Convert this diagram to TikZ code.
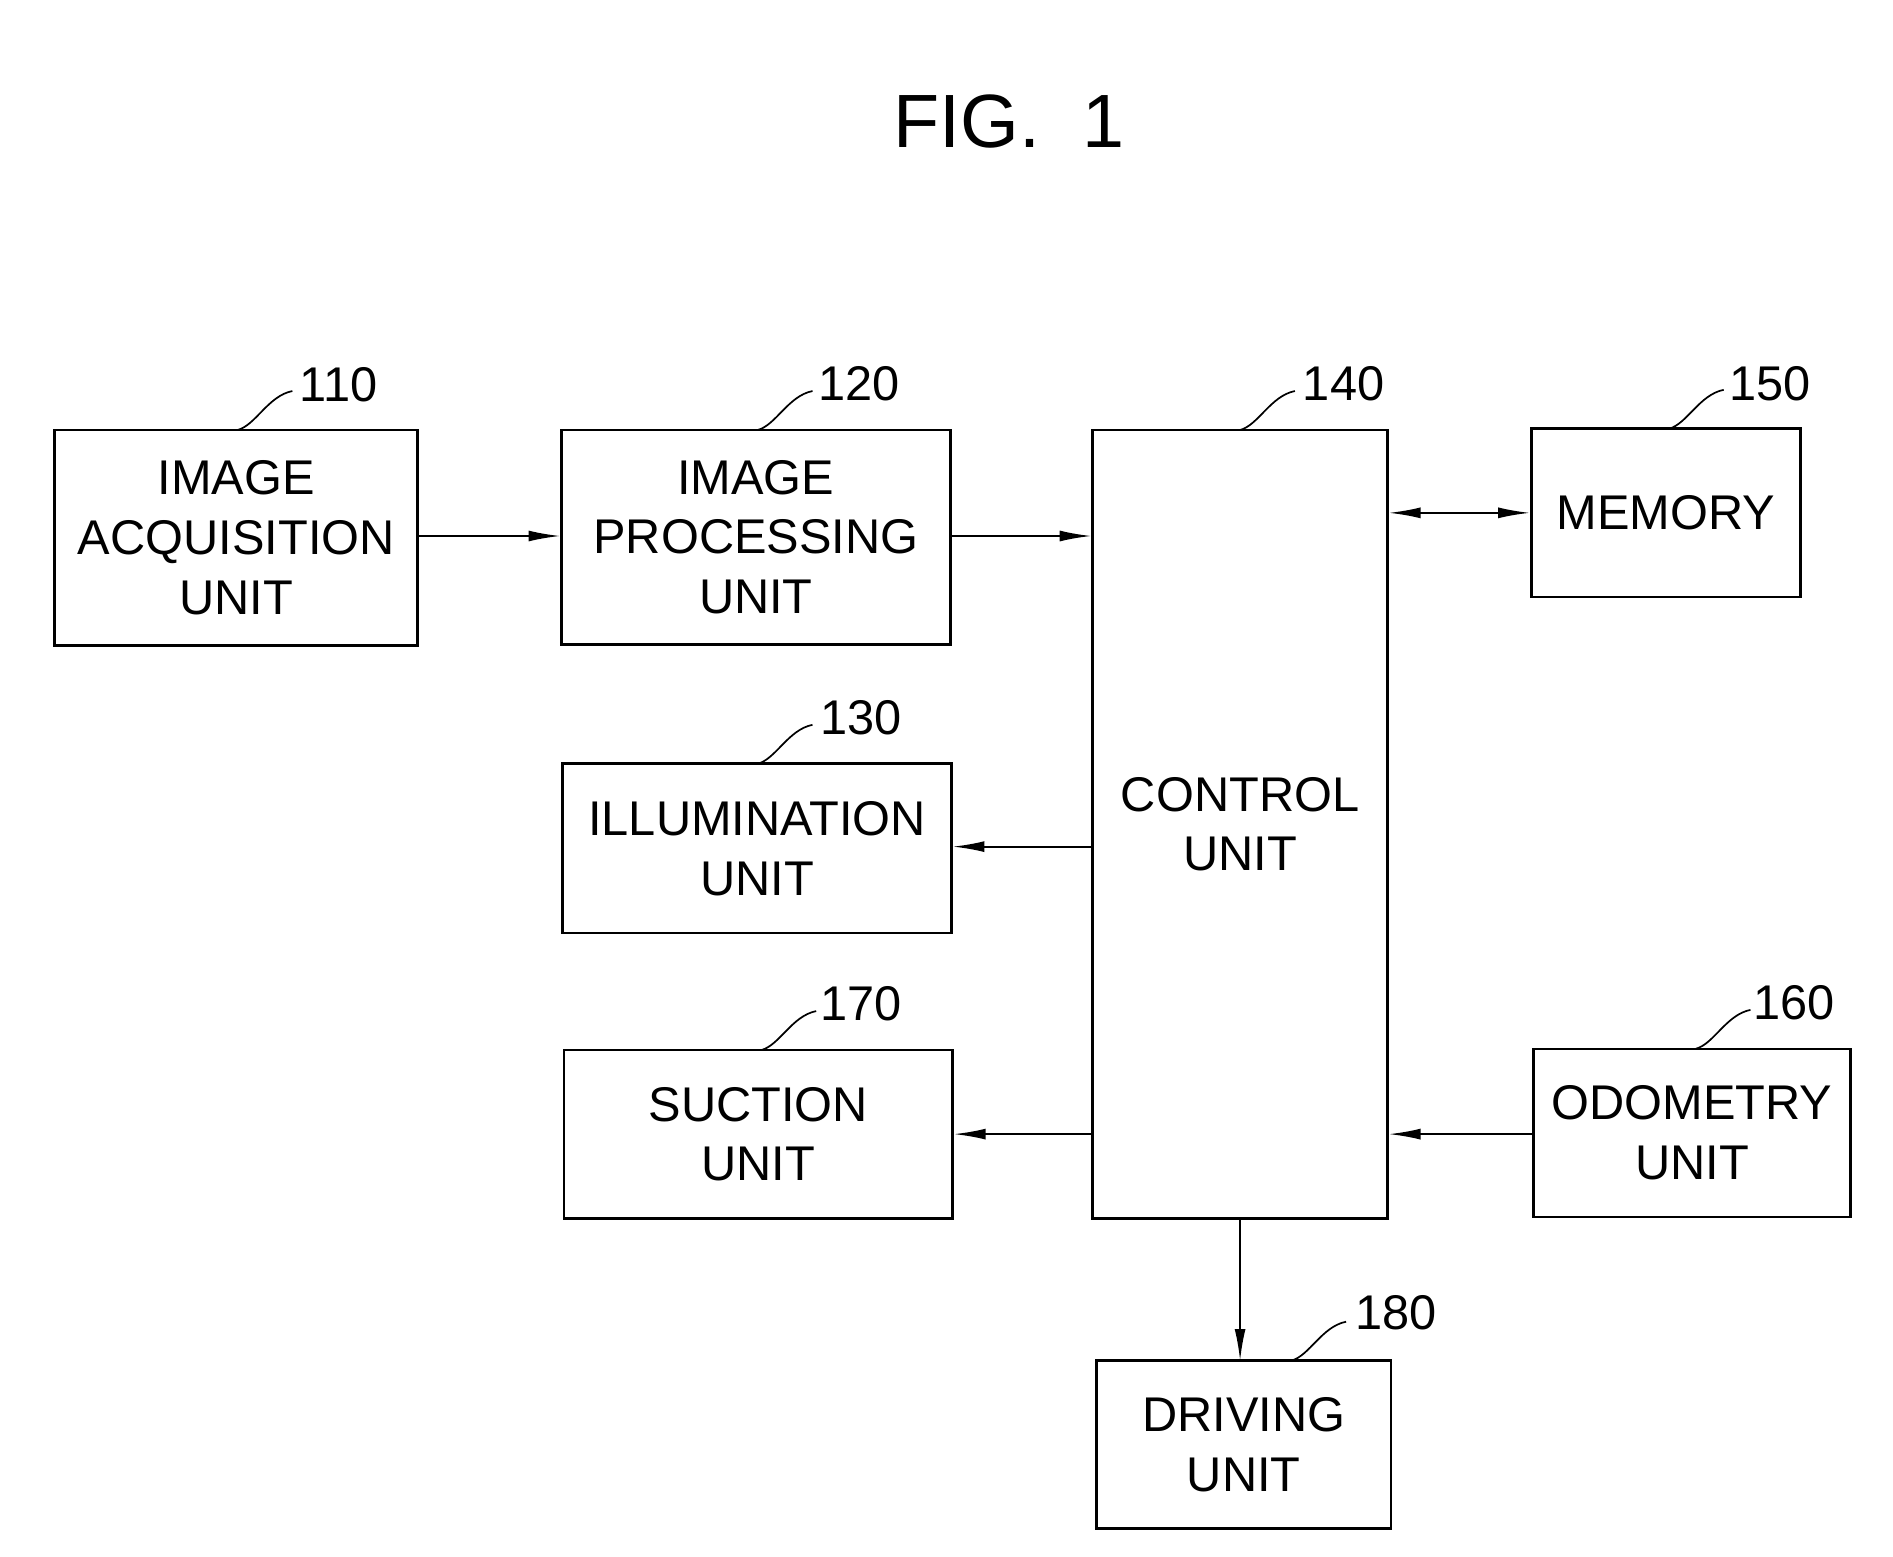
\documentclass[tikz,border=0pt]{standalone}
\usepackage{fontspec}
\setmainfont{Liberation Sans}
\usetikzlibrary{arrows.meta}
\begin{document}
\begin{tikzpicture}[x=1pt,y=-1pt,
 blk/.style={draw,line width=2.2pt,inner sep=0pt,align=center,font=\fontsize{40}{49}\selectfont},
 lbl/.style={font=\fontsize{40}{48}\selectfont},
 arr/.style={line width=1.6pt,-{Latex[length=26pt,width=9pt]}},
 tick/.style={line width=1.4pt}]
\useasboundingbox (0,0) rectangle (1554,1278);
\node[font=\fontsize{62}{70}\selectfont\rmfamily] (title) at (828,100) {FIG.\ \ 1};
\newcommand\blkat[6]{\node[blk,minimum width=#4-#2,minimum height=#5-#3] (#1) at ({(#2+#4)/2},{(#3+#5)/2}) {#6};}
\blkat{a}{45}{353}{343}{530}{IMAGE\\ACQUISITION\\UNIT}
\blkat{p}{461}{353}{780}{529}{IMAGE\\PROCESSING\\UNIT}
\blkat{c}{897}{353}{1139}{1000}{CONTROL\\UNIT}
\blkat{m}{1257}{352}{1478}{490}{MEMORY}
\blkat{i}{462}{627}{781}{766}{ILLUMINATION\\UNIT}
\blkat{s}{463}{862}{782}{1000}{SUCTION\\UNIT}
\blkat{o}{1259}{861}{1519}{999}{ODOMETRY\\UNIT}
\blkat{d}{900}{1117}{1142}{1255}{DRIVING\\UNIT}
\node[lbl] (la) at (278,316) {110};
\node[lbl] (lp) at (705,315) {120};
\node[lbl] (lc) at (1103,315) {140};
\node[lbl] (lm) at (1453,315) {150};
\node[lbl] (li) at (707,589) {130};
\node[lbl] (ls) at (707,824) {170};
\node[lbl] (lo) at (1473,823) {160};
\node[lbl] (ld) at (1146,1078) {180};
\foreach \n/\x/\y in {la/195/353,lp/622/353,lc/1018/353,lm/1370/352,li/622/627,ls/625/862,lo/1392/861,ld/1060/1117}{
 \draw[tick] (\x,\y) .. controls (\x+15,\y-4) and (\x+25,\y-28) .. (\x+45,\y-32);}
\draw[arr] (a.east|-0,440) -- (p.west|-0,440);
\draw[arr] (p.east|-0,440) -- (c.west|-0,440);
\draw[arr,{Latex[length=26pt,width=9pt]}-{Latex[length=26pt,width=9pt]}] (c.east|-0,421) -- (m.west|-0,421);
\draw[arr] (c.west|-0,695) -- (i.east|-0,695);
\draw[arr] (c.west|-0,931) -- (s.east|-0,931);
\draw[arr] (o.west|-0,931) -- (c.east|-0,931);
\draw[arr] (1018,1000) -- (1018,1117);
\end{tikzpicture}
\end{document}
